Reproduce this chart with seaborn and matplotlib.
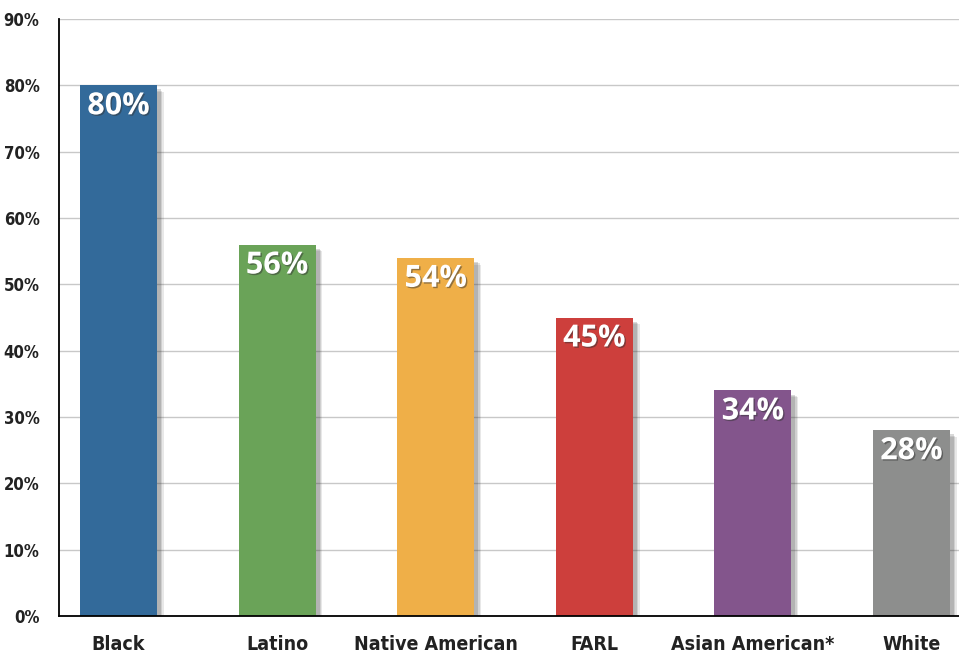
import matplotlib
matplotlib.use("Agg")
import matplotlib.pyplot as plt
import matplotlib.patheffects as pe
from matplotlib import font_manager
import pandas as pd
import seaborn as sns

groups = ["Black", "Latino", "Native American", "FARL", "Asian American*", "White"]
values = [80, 56, 54, 45, 34, 28]
colors = ["#336a9a", "#6aa358", "#efaf48", "#cd3f3c", "#83558c", "#8d8e8d"]
y_ticks = [0, 10, 20, 30, 40, 50, 60, 70, 80, 90]

sns.set_style("white")
plt.rcParams["font.family"] = ["DejaVu Sans", "Liberation Sans"]

# pick a condensed bold face if one is installed
condensed = None
for f in font_manager.fontManager.ttflist:
    if "Condensed" in f.fname or "Narrow" in f.fname:
        if f.weight in ("bold", 700) or "Bold" in f.fname:
            condensed = f.fname
            break
axis_font = font_manager.FontProperties(fname=condensed) if condensed else font_manager.FontProperties(family="DejaVu Sans", weight="bold", stretch="condensed")

df = pd.DataFrame({"group": groups, "value": values})

fig = plt.figure(figsize=(9.59, 6.53), dpi=100)
ax = fig.add_axes([59 / 959, 37 / 653, 900 / 959, 597 / 653])

sns.barplot(data=df, x="group", y="value", hue="group", palette=colors, saturation=1,
            width=0.485, legend=False, ax=ax, zorder=3)

# soft drop shadow: a few stacked offsets
shadow = [
    pe.SimplePatchShadow(offset=(5, -5), shadow_rgbFace="#444444", alpha=0.12),
    pe.SimplePatchShadow(offset=(4, -4), shadow_rgbFace="#444444", alpha=0.15),
    pe.SimplePatchShadow(offset=(3, -3), shadow_rgbFace="#444444", alpha=0.2),
    pe.Normal(),
]
for bar in ax.patches:
    bar.set_path_effects(shadow)
    bar.set_edgecolor("none")

ax.set_xlim(-0.375, 5.3)
ax.set_ylim(0, 90)
ax.set_yticks(y_ticks)
ax.set_yticklabels([f"{t}%" for t in y_ticks], color="#222222")
ax.set_xticks(range(len(groups)))
ax.set_xticklabels(groups, color="#222222")
for lab in ax.get_yticklabels():
    lab.set_fontproperties(axis_font)
    lab.set_fontsize(12)
for lab in ax.get_xticklabels():
    lab.set_fontproperties(axis_font)
    lab.set_fontsize(14)
ax.tick_params(axis="both", length=0)
ax.tick_params(axis="y", pad=14)
ax.tick_params(axis="x", pad=14)
ax.yaxis.grid(True, color="#c8c8c8", linewidth=1, zorder=0)
ax.set_axisbelow(True)
ax.set_xlabel("")
ax.set_ylabel("")

for side in ["top", "right"]:
    ax.spines[side].set_visible(False)
for side in ["left", "bottom"]:
    ax.spines[side].set_color("black")
    ax.spines[side].set_linewidth(1.3)
    ax.spines[side].set_zorder(4)

for i, v in enumerate(values):
    ax.text(i, v - 0.9, f"{v}%", ha="center", va="top", fontsize=22, fontweight="bold",
            color="white", family=["Open Sans", "DejaVu Sans"], zorder=5,
            path_effects=[pe.withSimplePatchShadow(offset=(1, -1), shadow_rgbFace="#333333", alpha=0.5)])

fig.savefig("out.png", dpi=100)
